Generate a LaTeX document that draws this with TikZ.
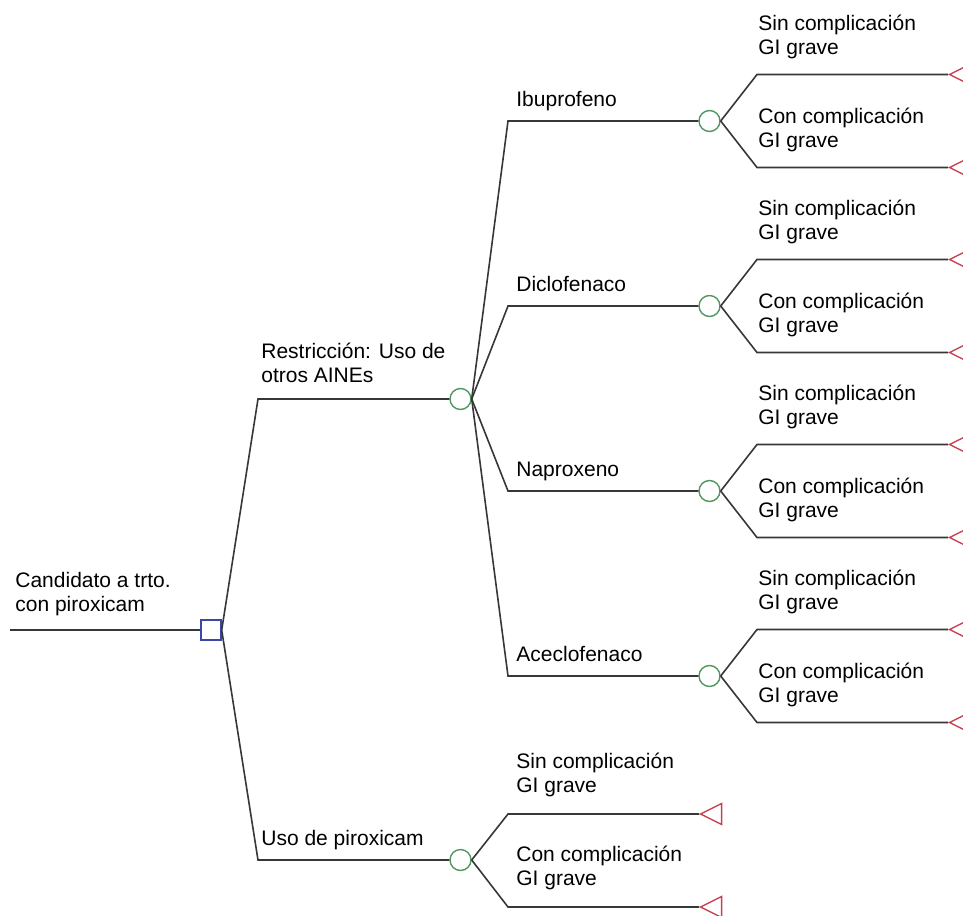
\documentclass[tikz,border=0pt]{standalone}
\usepackage{fontspec}
\setmainfont{Liberation Sans}
\usetikzlibrary{shapes.geometric}

\definecolor{decblue}{RGB}{60,70,170}
\definecolor{chgreen}{RGB}{80,150,95}
\definecolor{termred}{RGB}{195,65,80}
\definecolor{edgegray}{RGB}{55,55,55}

\begin{document}
\begin{tikzpicture}[x=0.5pt, y=-0.5pt,
    decision/.style={rectangle, draw=decblue, line width=0.7pt, inner sep=0pt, minimum size=10pt},
    chance/.style={circle, draw=chgreen, line width=0.7pt, inner sep=0pt, minimum size=10.5pt},
    terminal/.style={isosceles triangle, isosceles triangle apex angle=53, shape border rotate=180,
      draw=termred, line width=0.7pt, inner sep=0pt, minimum height=10.5pt, minimum width=10.5pt, anchor=apex},
    lbl/.style={align=left, anchor=base west, inner sep=0pt, font=\fontsize{10.5}{12}\selectfont},
    branch/.style={draw=edgegray, line width=0.8pt}]
    \useasboundingbox (0,0) rectangle (963,915);

    % decision node and first level
    \coordinate (start) at (10,630);
    \node[decision] (dec) at (211,630) {};
    \coordinate (e-res) at (258,399);
    \coordinate (e-pir) at (258,860);
    \node[chance] (res) at (460.5,399) {};
    \node[chance] (pir) at (460.5,860) {};

    % drugs
    \coordinate (e-ibu) at (508,121);
    \coordinate (e-dic) at (508,306);
    \coordinate (e-nap) at (508,491);
    \coordinate (e-ace) at (508,676);
    \node[chance] (ibu) at (709.5,121) {};
    \node[chance] (dic) at (709.5,306) {};
    \node[chance] (nap) at (709.5,491) {};
    \node[chance] (ace) at (709.5,676) {};

    % outcomes
    \coordinate (e-ibu-s) at (757,74.5);   \node[terminal] (t-ibu-s) at (948,74.5) {};
    \coordinate (e-ibu-c) at (757,167.5);  \node[terminal] (t-ibu-c) at (948,167.5) {};
    \coordinate (e-dic-s) at (757,259.5);  \node[terminal] (t-dic-s) at (948,259.5) {};
    \coordinate (e-dic-c) at (757,352.5);  \node[terminal] (t-dic-c) at (948,352.5) {};
    \coordinate (e-nap-s) at (757,444.5);  \node[terminal] (t-nap-s) at (948,444.5) {};
    \coordinate (e-nap-c) at (757,537.5);  \node[terminal] (t-nap-c) at (948,537.5) {};
    \coordinate (e-ace-s) at (757,629.5);  \node[terminal] (t-ace-s) at (948,629.5) {};
    \coordinate (e-ace-c) at (757,722.5);  \node[terminal] (t-ace-c) at (948,722.5) {};
    \coordinate (e-pir-s) at (508,814);    \node[terminal] (t-pir-s) at (699,814) {};
    \coordinate (e-pir-c) at (508,907);    \node[terminal] (t-pir-c) at (699,907) {};

    \draw[branch] (start) -- (dec);
    \draw[branch] (dec.east) -- (e-res) -- (res);
    \draw[branch] (dec.east) -- (e-pir) -- (pir);
    \draw[branch] (res.east) -- (e-ibu) -- (ibu);
    \draw[branch] (res.east) -- (e-dic) -- (dic);
    \draw[branch] (res.east) -- (e-nap) -- (nap);
    \draw[branch] (res.east) -- (e-ace) -- (ace);
    \draw[branch] (ibu.east) -- (e-ibu-s) -- (t-ibu-s);
    \draw[branch] (ibu.east) -- (e-ibu-c) -- (t-ibu-c);
    \draw[branch] (dic.east) -- (e-dic-s) -- (t-dic-s);
    \draw[branch] (dic.east) -- (e-dic-c) -- (t-dic-c);
    \draw[branch] (nap.east) -- (e-nap-s) -- (t-nap-s);
    \draw[branch] (nap.east) -- (e-nap-c) -- (t-nap-c);
    \draw[branch] (ace.east) -- (e-ace-s) -- (t-ace-s);
    \draw[branch] (ace.east) -- (e-ace-c) -- (t-ace-c);
    \draw[branch] (pir.east) -- (e-pir-s) -- (t-pir-s);
    \draw[branch] (pir.east) -- (e-pir-c) -- (t-pir-c);

    % labels
    \node[lbl] (l-start) at (15,611) {Candidato a trto.\\con piroxicam};
    \node[lbl] (l-res) at (261,382) {Restricción: Uso de\\otros AINEs};
    \node[lbl] (l-pir) at (261,845) {Uso de piroxicam};
    \node[lbl] (l-ibu) at (516,106) {Ibuprofeno};
    \node[lbl] (l-dic) at (516,291) {Diclofenaco};
    \node[lbl] (l-nap) at (516,476) {Naproxeno};
    \node[lbl] (l-ace) at (516,661) {Aceclofenaco};
    \node[lbl] (l-ibu-s) at (758,54.5) {Sin complicación\\GI grave};
    \node[lbl] (l-ibu-c) at (758,147.5) {Con complicación\\GI grave};
    \node[lbl] (l-dic-s) at (758,239.5) {Sin complicación\\GI grave};
    \node[lbl] (l-dic-c) at (758,332.5) {Con complicación\\GI grave};
    \node[lbl] (l-nap-s) at (758,424.5) {Sin complicación\\GI grave};
    \node[lbl] (l-nap-c) at (758,517.5) {Con complicación\\GI grave};
    \node[lbl] (l-ace-s) at (758,609.5) {Sin complicación\\GI grave};
    \node[lbl] (l-ace-c) at (758,702.5) {Con complicación\\GI grave};
    \node[lbl] (l-pir-s) at (516,792) {Sin complicación\\GI grave};
    \node[lbl] (l-pir-c) at (516,885) {Con complicación\\GI grave};
\end{tikzpicture}
\end{document}
